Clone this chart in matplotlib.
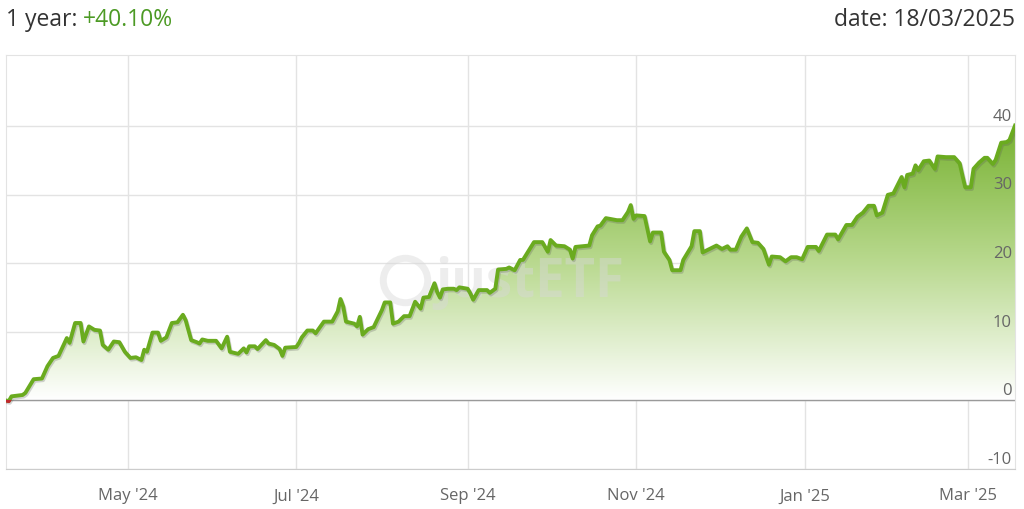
import numpy as np
import matplotlib
matplotlib.use("Agg")
import matplotlib.pyplot as plt
import matplotlib.dates as mdates
import matplotlib.patheffects as pe
from matplotlib.colors import LinearSegmentedColormap
from matplotlib.patches import Rectangle

plt.rcParams['font.family'] = ['Open Sans', 'DejaVu Sans']

# performance data (days since start date, % change)
start_date = np.datetime64('2024-03-18')
days = [
    0, 1, 2, 6, 7, 10, 13, 15, 17, 19, 22, 23, 25, 27, 28, 30, 32, 34, 35, 37,
    39, 41, 43, 45, 47, 49, 50, 51, 53, 55, 56, 58, 60, 62, 64, 65, 67, 69, 70, 71,
    73, 76, 78, 80, 81, 84, 86, 87, 88, 90, 91, 94, 95, 97, 99, 100, 101, 105, 106, 107,
    109, 111, 112, 115, 118, 120, 121, 122, 123, 126, 127, 128, 129, 131, 133, 136, 137, 139, 140, 142,
    144, 146, 148, 150, 151, 153, 155, 156, 157, 158, 160, 162, 163, 164, 167, 168, 169, 171, 174, 175,
    177, 178, 181, 182, 184, 186, 187, 189, 191, 194, 196, 197, 199, 202, 204, 205, 206, 211, 212, 214,
    215, 217, 221, 223, 225, 226, 227, 228, 231, 233, 234, 237, 238, 240, 241, 244, 245, 248, 249, 251,
    252, 255, 257, 259, 261, 262, 264, 266, 268, 270, 272, 274, 276, 277, 280, 282, 284, 286, 288, 290,
    293, 294, 297, 300, 301, 304, 306, 308, 310, 312, 314, 315, 317, 319, 321, 324, 325, 326, 328, 329,
    330, 332, 334, 336, 337, 340, 343, 345, 346, 347, 349, 350, 352, 354, 355, 357, 358, 360, 362, 363,
    365,
]
perf = [
    0.0, -0.1, 0.6, 0.8, 1.1, 3.1, 3.2, 5.0, 6.2, 6.5, 9.1, 8.4, 11.3, 11.3, 8.6, 10.8, 10.3, 10.2, 8.1, 7.4,
    8.6, 8.5, 7.1, 6.2, 6.3, 5.9, 7.4, 7.1, 9.9, 9.9, 8.7, 9.2, 11.3, 11.4, 12.5, 11.7, 8.8, 8.5, 8.3, 8.9,
    8.7, 8.7, 7.6, 9.3, 7.1, 6.8, 7.6, 7.0, 7.9, 7.9, 7.5, 8.8, 8.3, 8.1, 7.5, 6.5, 7.7, 7.8, 8.4, 9.2,
    10.2, 10.2, 9.8, 11.5, 11.5, 13.0, 14.8, 13.7, 11.5, 11.2, 10.8, 12.2, 9.6, 10.4, 10.7, 13.2, 14.3, 14.3, 11.2, 11.5,
    12.3, 12.3, 14.4, 13.4, 15.0, 15.1, 17.1, 15.8, 15.0, 16.2, 16.3, 16.3, 16.1, 16.5, 16.3, 15.6, 14.7, 16.1, 16.1, 15.7,
    16.3, 19.1, 19.2, 19.4, 19.0, 20.5, 20.5, 21.8, 23.1, 23.1, 21.7, 23.4, 22.6, 22.5, 22.0, 20.7, 22.4, 22.6, 24.1, 25.4,
    25.5, 26.6, 26.3, 26.3, 27.5, 28.5, 26.5, 27.0, 26.9, 23.2, 24.5, 24.5, 21.7, 20.5, 19.0, 19.0, 20.5, 22.5, 24.7, 24.7,
    21.6, 22.2, 22.6, 22.1, 22.5, 22.0, 22.0, 23.9, 25.1, 23.1, 23.0, 22.1, 19.8, 21.0, 20.9, 20.3, 20.9, 20.9, 20.6, 22.4,
    22.4, 21.8, 24.2, 24.2, 23.5, 25.6, 25.6, 26.8, 27.4, 28.4, 28.4, 27.0, 27.4, 30.0, 30.2, 32.6, 31.1, 32.9, 33.1, 34.3,
    33.6, 34.9, 35.0, 33.8, 35.6, 35.5, 35.5, 34.6, 32.8, 31.1, 31.1, 33.8, 34.7, 35.4, 35.4, 34.5, 35.1, 37.6, 37.7, 38.0,
    40.1,
]
month_ticks = ['2024-05-01', '2024-07-01', '2024-09-01', '2024-11-01', '2025-01-01', '2025-03-01']
month_labels = ["May '24", "Jul '24", "Sep '24", "Nov '24", "Jan '25", "Mar '25"]
y_ticks = [-10, 0, 10, 20, 30, 40]
total_return = '+40.10%'
as_of = '18/03/2025'

dates = start_date + np.array(days).astype('timedelta64[D]')
x = mdates.date2num(dates)
y = np.array(perf)

line_green = '#6aab1f'
fig = plt.figure(figsize=(10.24, 5.09), dpi=100)
ax = fig.add_axes([6 / 1024, 40 / 509, 1009 / 1024, 414 / 509])
ax.set_xlim(x[0], x[-1])
ax.set_ylim(-10, 50.4)

# gradient fill under the curve
poly = ax.fill_between(x, 0, y, facecolor='none', edgecolor='none')
cmap = LinearSegmentedColormap.from_list('g', ['#ffffff', '#b9d98f', '#78b232'])
grad = np.linspace(0, 1, 256).reshape(-1, 1)
im = ax.imshow(grad, cmap=cmap, aspect='auto', origin='lower',
               extent=[x[0], x[-1], 0, y.max()], zorder=1)
im.set_clip_path(poly.get_paths()[0], transform=ax.transData)

# watermark (logo ring + name)
ax.plot([0.395], [0.457], 'o', transform=ax.transAxes, ms=32, mfc='none',
        mec='#d8d8d8', mew=5, alpha=0.45, zorder=2)
ax.text(0.425, 0.45, 'justETF', transform=ax.transAxes, ha='left', va='center',
        fontsize=38, fontweight='bold', color='#d8d8d8', alpha=0.45, zorder=2)

# grid
for v in y_ticks:
    ax.axhline(v, color='#e3e3e3', lw=1, zorder=0)
ax.axhline(0, color='#9a9a9a', lw=1, zorder=2)
tick_x = mdates.date2num(np.array(month_ticks, dtype='datetime64[D]'))
for t in tick_x:
    ax.axvline(t, color='#e3e3e3', lw=1, zorder=0)

# line with shadow, red below zero
shadow = [pe.SimpleLineShadow(offset=(0.8, -1.2), alpha=0.25, shadow_color='#555555'), pe.Normal()]
ax.plot(x, y, color=line_green, lw=2.8, zorder=3, solid_joinstyle='round', path_effects=shadow)
neg, = ax.plot(x, y, color='#c0282d', lw=2.8, zorder=4)
neg.set_clip_path(Rectangle((x[0], -10), x[-1] - x[0], 10, transform=ax.transData))

# axes styling
for side in ['top', 'left', 'right']:
    ax.spines[side].set_color('#e3e3e3')
ax.spines['bottom'].set_color('#cccccc')
ax.set_yticks([])
ax.set_xticks(tick_x)
ax.set_xticklabels(month_labels)
ax.tick_params(axis='x', length=0, pad=14, labelsize=12, labelcolor='#666666')

for v in y_ticks:
    ax.annotate(str(v), xy=(0.997, v), xycoords=('axes fraction', 'data'),
                xytext=(0, 1), textcoords='offset points',
                ha='right', va='bottom', fontsize=12, color='#666666', zorder=5)

# header texts
t1 = fig.text(6 / 1024, 1 - 20 / 509, '1 year: ', ha='left', va='center', fontsize=16.5, color='#333333')
fig.canvas.draw()
ax.annotate(total_return, xy=(1, 0.5), xycoords=t1, ha='left', va='center',
            fontsize=16.5, color='#4c9a24', annotation_clip=False)
fig.text(1015 / 1024, 1 - 20 / 509, 'date: ' + as_of, ha='right', va='center', fontsize=16.5, color='#333333')

fig.savefig('out.png', dpi=100)
